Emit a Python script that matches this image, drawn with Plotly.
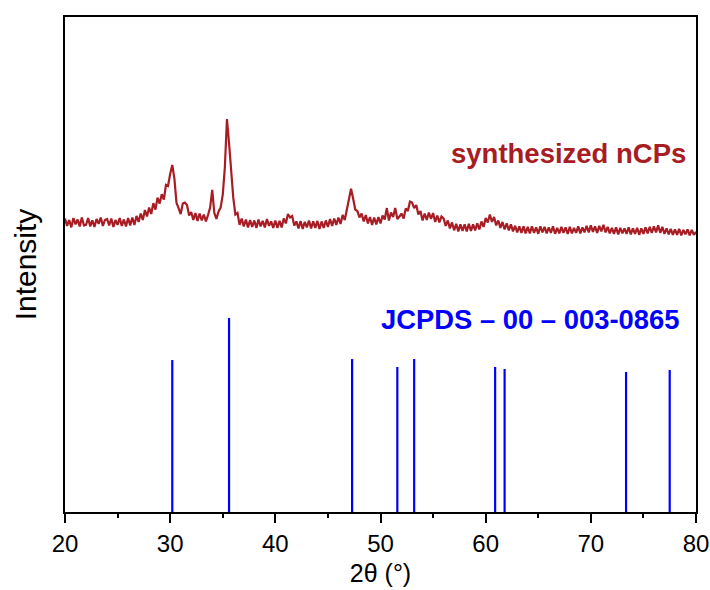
import numpy as np
import plotly.graph_objects as go

# 2-theta grid (0.2 degree steps, 20 -> 80)
two_theta = np.round(20 + 0.2 * np.arange(301), 1)

intensity = [
    59.3, 57.8, 59.0, 57.5, 59.4, 58.1, 59.1, 57.7, 59.5, 57.9,   # 20
    58.0, 59.4, 57.7, 58.9, 57.6, 59.2, 58.2, 59.5, 57.8, 59.0,   # 22
    59.2, 57.9, 59.3, 57.6, 59.0, 58.0, 59.4, 57.8, 59.1, 57.7,   # 24
    59.4, 57.9, 59.5, 58.0, 59.8, 58.6, 60.3, 59.0, 61.0, 59.7,   # 26
    61.5, 60.2, 62.4, 61.1, 63.5, 62.3, 64.2, 63.1, 66.1, 65.9,   # 28
    68.3, 70.1, 67.4, 62.5, 61.4, 60.2, 62.3, 62.5, 62.0, 59.9,   # 30
    60.6, 59.0, 60.4, 58.8, 60.3, 58.9, 60.1, 58.7, 60.0, 61.5,   # 32
    65.1, 60.4, 59.2, 60.7, 61.5, 64.1, 69.6, 79.4, 74.5, 68.4,   # 34
    63.5, 60.1, 60.4, 58.0, 59.3, 57.7, 59.1, 57.5, 59.0, 57.6,   # 36
    58.9, 57.4, 59.1, 57.7, 58.8, 57.5, 59.2, 57.8, 58.7, 57.4,   # 38
    58.9, 57.4, 58.8, 57.5, 59.3, 58.3, 60.2, 59.5, 59.8, 57.9,   # 40
    58.7, 57.3, 58.8, 57.2, 58.6, 57.5, 58.9, 57.3, 58.7, 57.4,   # 42
    58.8, 57.2, 58.7, 57.4, 58.9, 57.6, 59.2, 57.8, 59.3, 58.0,   # 44
    59.5, 58.2, 60.0, 59.0, 61.1, 62.5, 65.3, 63.3, 61.1, 60.8,   # 46
    59.5, 60.3, 58.7, 60.0, 58.3, 59.6, 58.0, 59.5, 58.1, 59.6,   # 48
    58.3, 59.9, 59.1, 61.4, 58.9, 60.5, 59.6, 61.4, 59.2, 59.7,   # 50
    60.3, 59.3, 61.3, 60.8, 62.7, 62.5, 61.4, 62.0, 60.1, 60.8,   # 52
    58.9, 60.3, 59.0, 60.5, 59.2, 60.4, 58.6, 59.9, 58.5, 59.7,   # 54
    59.3, 57.8, 58.9, 57.3, 58.5, 56.9, 58.2, 56.7, 58.1, 56.8,   # 56
    58.1, 56.7, 58.2, 56.8, 58.1, 56.9, 58.3, 57.1, 58.7, 57.6,   # 58
    59.4, 58.5, 60.1, 58.6, 59.6, 57.9, 58.9, 57.4, 58.6, 57.1,   # 60
    58.3, 56.9, 58.1, 56.7, 57.8, 56.5, 57.7, 56.4, 57.7, 56.3,   # 62
    57.6, 56.3, 57.7, 56.4, 57.5, 56.2, 57.7, 56.5, 57.6, 56.3,   # 64
    57.5, 56.4, 57.7, 56.2, 57.4, 56.3, 57.6, 56.4, 57.5, 56.2,   # 66
    57.6, 56.3, 57.4, 56.4, 57.7, 56.3, 57.5, 56.5, 57.8, 56.5,   # 68
    57.9, 56.6, 57.7, 56.4, 57.8, 56.7, 58.0, 56.5, 57.6, 56.3,   # 70
    57.4, 56.2, 57.5, 56.1, 57.4, 56.3, 57.3, 56.2, 57.5, 56.1,   # 72
    57.3, 56.2, 57.4, 56.0, 57.3, 56.2, 57.5, 56.3, 57.6, 56.4,   # 74
    57.7, 56.5, 57.9, 56.4, 57.6, 56.2, 57.3, 56.1, 57.2, 56.0,   # 76
    57.1, 56.0, 57.2, 55.9, 57.0, 56.1, 57.1, 55.9, 57.0, 56.0,   # 78
    56.6,
]

# JCPDS 00-003-0865 reference lines
ref_pos = [30.2, 35.6, 47.3, 51.6, 53.2, 60.9, 61.8, 73.35, 77.5]
ref_height = [30.7, 39.2, 30.9, 29.3, 30.9, 29.3, 28.9, 28.3, 28.7]

x_ticks = [20, 30, 40, 50, 60, 70, 80]

stick_x, stick_y = [], []
for p, h in zip(ref_pos, ref_height):
    stick_x += [p, p, None]
    stick_y += [0, h, None]

FONT = "Arial, Liberation Sans, sans-serif"
RED = "#A81C24"
BLUE = "#0000FF"

fig = go.Figure()
fig.add_trace(go.Scatter(x=list(two_theta), y=intensity, mode="lines",
                         line=dict(color=RED, width=2.2), showlegend=False,
                         hoverinfo="skip"))
fig.add_trace(go.Scatter(x=stick_x, y=stick_y, mode="lines",
                         line=dict(color=BLUE, width=2.2), showlegend=False,
                         hoverinfo="skip"))

fig.add_annotation(x=79.25, y=72.5, xref="x", yref="y", text="<b>synthesized nCPs</b>",
                   showarrow=False, xanchor="right", yanchor="middle",
                   font=dict(family=FONT, size=27.5, color=RED))
fig.add_annotation(x=78.55, y=38.8, xref="x", yref="y", text="<b>JCPDS – 00 – 003-0865</b>",
                   showarrow=False, xanchor="right", yanchor="middle",
                   font=dict(family=FONT, size=27.4, color=BLUE))

fig.update_layout(
    width=710, height=590,
    margin=dict(l=65, r=14, t=17, b=78),
    paper_bgcolor="white", plot_bgcolor="white",
    font=dict(family=FONT, color="black"),
)
fig.update_xaxes(
    range=[20, 80], tickvals=x_ticks, ticks="outside", ticklen=9, tickwidth=1.5,
    tickcolor="black", showline=True, linecolor="black", linewidth=1.8, mirror=True,
    showgrid=False, zeroline=False, automargin=False,
    tickfont=dict(family=FONT, size=24, color="black"),
    minor=dict(tickvals=[25, 35, 45, 55, 65, 75], ticks="outside", ticklen=4,
               tickwidth=1.5, tickcolor="black"),
    title=dict(text="2θ (°)", font=dict(family=FONT, size=25, color="black"), standoff=9),
)
fig.update_yaxes(
    range=[0, 100], showticklabels=False, ticks="", showline=True, linecolor="black",
    linewidth=1.8, mirror=True, showgrid=False, zeroline=False, automargin=False,
    title=dict(text="Intensity", font=dict(family=FONT, size=30, color="black"), standoff=18),
)

fig.write_html("out.html")
